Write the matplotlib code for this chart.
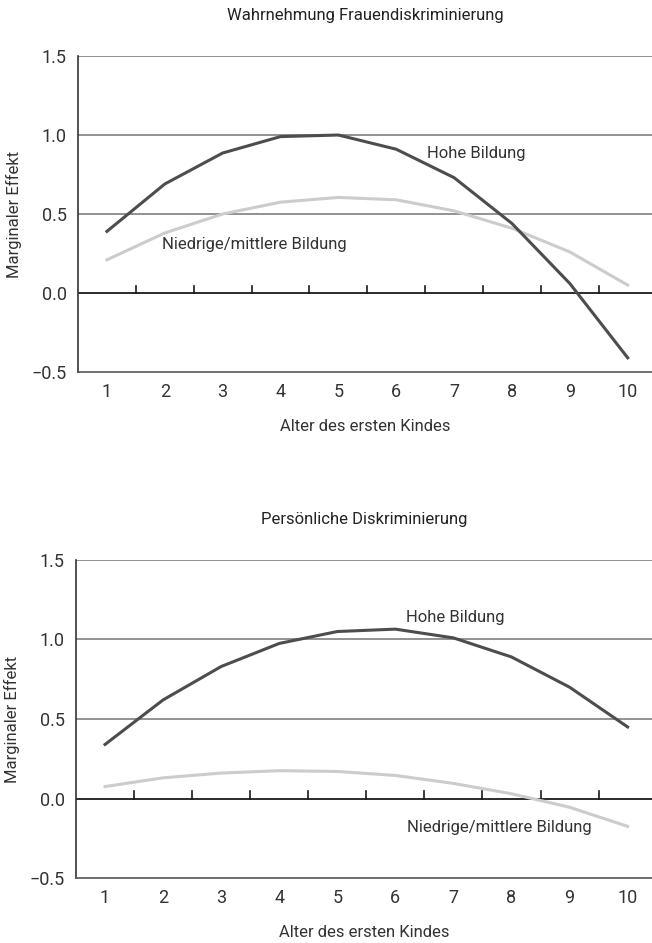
import matplotlib
matplotlib.use('Agg')
import matplotlib.pyplot as plt

plt.rcParams['font.family'] = ['Roboto', 'DejaVu Sans']

# Alter des ersten Kindes
alter = [1, 2, 3, 4, 5, 6, 7, 8, 9, 10]

# Wahrnehmung Frauendiskriminierung
frauen_hoch = [0.39, 0.69, 0.886, 0.99, 1.0, 0.91, 0.73, 0.44, 0.06, -0.41]
frauen_niedrig = [0.21, 0.38, 0.50, 0.575, 0.605, 0.59, 0.52, 0.41, 0.26, 0.05]

# Persönliche Diskriminierung
pers_hoch = [0.34, 0.62, 0.83, 0.975, 1.05, 1.065, 1.01, 0.89, 0.70, 0.45]
pers_niedrig = [0.075, 0.13, 0.16, 0.175, 0.17, 0.145, 0.095, 0.03, -0.055, -0.175]

yticks = [-0.5, 0.0, 0.5, 1.0, 1.5]
ytick_labels = ['\u22120.5', '0.0', '0.5', '1.0', '1.5']

dark = '#4d4d4d'
light = '#cccccc'
grid_c = '#7f7f7f'
txt = '#333333'
fs = 12

fig = plt.figure(figsize=(6.52, 9.43), dpi=100)
ax1 = fig.add_axes([0.1196, 0.6055, 0.8804, 0.3351])
ax2 = fig.add_axes([0.1166, 0.0689, 0.8834, 0.3373])


def panel(ax, title, hoch, niedrig):
    for y in [0.5, 1.0, 1.5]:
        ax.axhline(y, color=grid_c, lw=1.2, zorder=1)
    ax.axhline(0, color='#1a1a1a', lw=1.3, zorder=2)
    # kleine Markierungen auf der Nulllinie
    for xm in [1.5, 2.5, 3.5, 4.5, 5.5, 6.5, 7.5, 8.5, 9.5]:
        ax.plot([xm, xm], [0, 0.045], color='#1a1a1a', lw=1.2, zorder=2)
    ax.plot(alter, niedrig, color=light, lw=2.2, zorder=3)
    ax.plot(alter, hoch, color=dark, lw=2.2, zorder=4)
    ax.set_xlim(0.5, 10.42)
    ax.set_ylim(-0.5, 1.5)
    ax.set_xticks(alter)
    ax.set_yticks(yticks)
    ax.set_yticklabels(ytick_labels)
    ax.tick_params(length=0, labelsize=13, colors=txt, pad=8)
    for s in ['top', 'right']:
        ax.spines[s].set_visible(False)
    ax.spines['left'].set_color('#333333')
    ax.spines['bottom'].set_color('#555555')
    ax.spines['left'].set_linewidth(1.2)
    ax.spines['bottom'].set_linewidth(1.2)
    ax.set_title(title, fontsize=fs, color='#222222', pad=26)
    ax.set_xlabel('Alter des ersten Kindes', fontsize=fs, color=txt, labelpad=13)
    ax.set_ylabel('Marginaler Effekt', fontsize=fs, color=txt)
    ax.yaxis.set_label_coords(-0.098, 0.5)


panel(ax1, 'Wahrnehmung Frauendiskriminierung', frauen_hoch, frauen_niedrig)
ax1.text(6.54, 0.886, 'Hohe Bildung', fontsize=fs, color=txt, ha='left', va='center')
ax1.text(1.95, 0.31, 'Niedrige/mittlere Bildung', fontsize=fs, color=txt, ha='left', va='center')

panel(ax2, 'Persönliche Diskriminierung', pers_hoch, pers_niedrig)
ax2.text(6.18, 1.14, 'Hohe Bildung', fontsize=fs, color=txt, ha='left', va='center')
ax2.text(6.2, -0.18, 'Niedrige/mittlere Bildung', fontsize=fs, color=txt, ha='left', va='center')

fig.savefig('out.png', dpi=100)
